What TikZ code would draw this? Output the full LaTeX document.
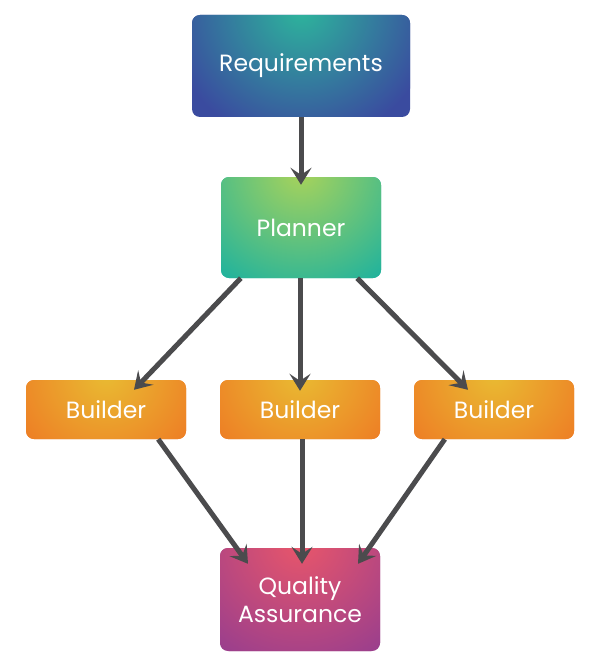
\documentclass[tikz,border=0pt]{standalone}
\usepackage{fontspec}
\setmainfont{Poppins}
\usetikzlibrary{arrows.meta,calc}
\definecolor{arrowgray}{HTML}{4B4B4D}
\definecolor{reqin}{HTML}{2DB59C}
\definecolor{reqout}{HTML}{3A4B9F}
\definecolor{planin}{HTML}{A9D35A}
\definecolor{planout}{HTML}{22B39C}
\definecolor{buildin}{HTML}{E9BB32}
\definecolor{buildout}{HTML}{EE7A24}
\definecolor{qain}{HTML}{E9566A}
\definecolor{qaout}{HTML}{9C3F8C}
\tikzset{
  box/.style={rounded corners=8pt, text=white, align=center,
    font=\fontsize{23.5}{28}\selectfont, inner sep=0pt},
  glow/.style n args={3}{fill=#2, path picture={
    \shade[inner color=#1, outer color=#2]
      ($(path picture bounding box.north)+(0,6pt)$) circle (#3);}},
  arr/.style={draw=arrowgray, line width=5pt,
    -{Stealth[length=17pt,width=21pt,inset=7pt]}},
}
\begin{document}
\begin{tikzpicture}[x=1pt,y=-1pt]
\useasboundingbox (0,0) rectangle (600,666);
\fill[white] (0,0) rectangle (600,666);
\node[box, glow={reqin}{reqout}{135pt}, minimum width=218pt, minimum height=102pt] (req) at (301,66) {Requirements};
\node[box, glow={planin}{planout}{130pt}, minimum width=160pt, minimum height=101pt] (plan) at (301,227.5) {Planner};
\node[box, glow={buildin}{buildout}{110pt}, minimum width=160pt, minimum height=59pt] (b1) at (106,409.5) {Builder};
\node[box, glow={buildin}{buildout}{110pt}, minimum width=160pt, minimum height=59pt] (b2) at (300,409.5) {Builder};
\node[box, glow={buildin}{buildout}{110pt}, minimum width=160pt, minimum height=59pt] (b3) at (494,409.5) {Builder};
\node[box, glow={qain}{qaout}{130pt}, minimum width=160pt, minimum height=103pt] (qa) at (300,599.5) {Quality\\Assurance};
\draw[arr] (req.south) -- ([yshift=-8pt]plan.north);
\draw[arr] ([xshift=20pt]plan.south west) -- ([xshift=28pt,yshift=-10pt]b1.north);
\draw[arr] ([xshift=-1pt]plan.south) -- ([yshift=-11pt]b2.north);
\draw[arr] ([xshift=-24pt]plan.south east) -- ([xshift=-26pt,yshift=-10pt]b3.north);
\draw[arr] ([xshift=-28pt]b1.south east) -- ([xshift=-52pt,yshift=-16pt]qa.north);
\draw[arr] ([xshift=2pt]b2.south) -- ([xshift=2pt,yshift=-16pt]qa.north);
\draw[arr] ([xshift=31pt]b3.south west) -- ([xshift=58pt,yshift=-16pt]qa.north);
\end{tikzpicture}
\end{document}
